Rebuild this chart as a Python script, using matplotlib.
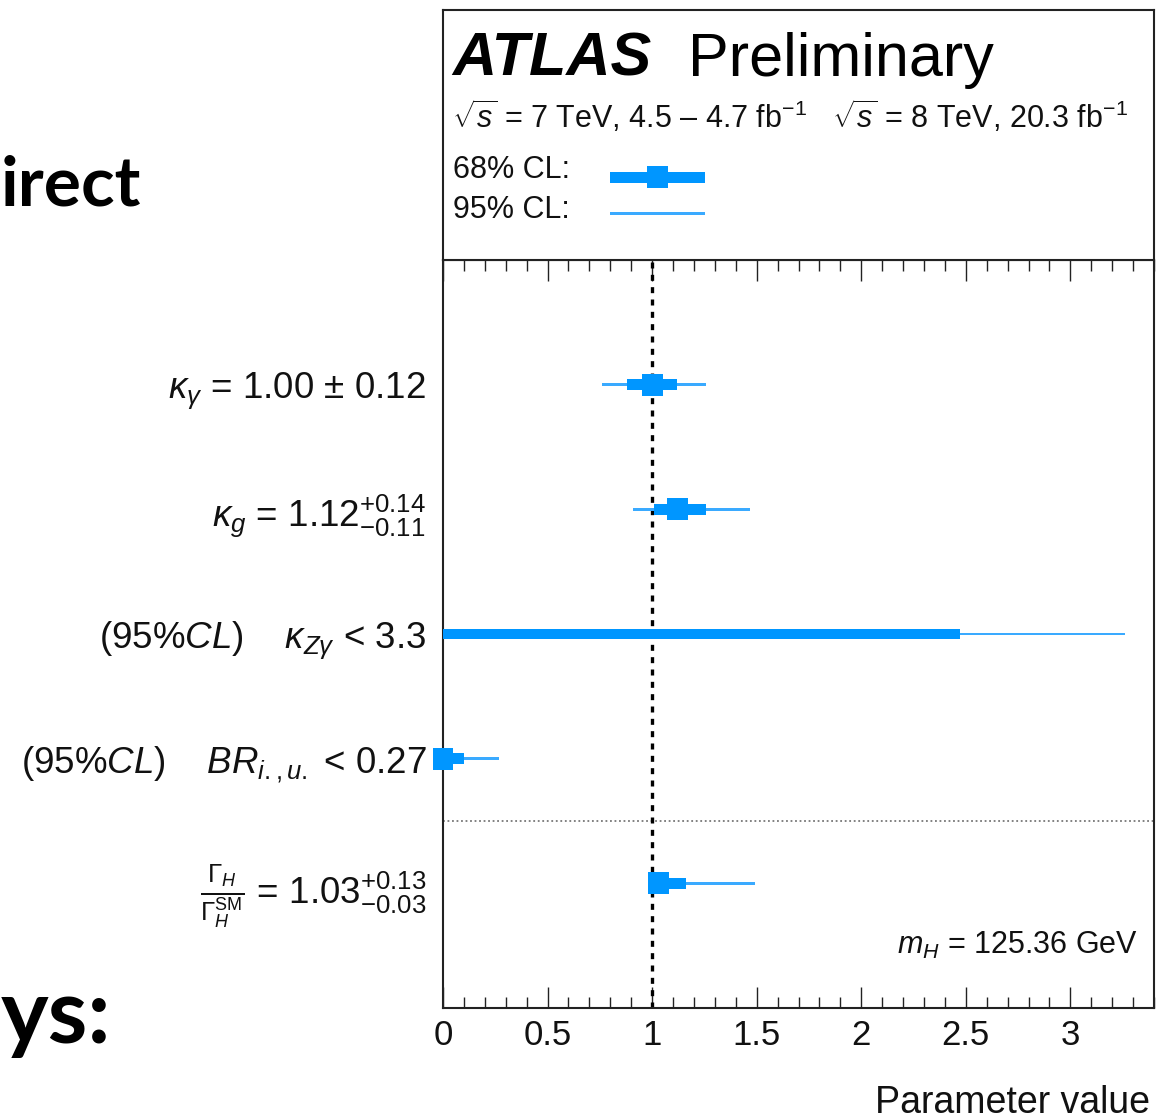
import numpy as np
import matplotlib
matplotlib.use("Agg")
import matplotlib.pyplot as plt

plt.rcParams['font.family'] = ['Liberation Sans', 'DejaVu Sans']
plt.rcParams['mathtext.fontset'] = 'custom'
plt.rcParams['mathtext.rm'] = 'Liberation Sans'
plt.rcParams['mathtext.it'] = 'Liberation Sans:italic'
plt.rcParams['mathtext.bf'] = 'Liberation Sans:bold'
plt.rcParams['mathtext.sf'] = 'Liberation Sans'

# ---- fit results (best fit, 68% and 95% CL intervals) ----
params = ["kgamma", "kg", "kZgamma", "BRiu", "GammaH"]
central = [1.00, 1.12, np.nan, 0.00, 1.03]
err_up = [0.12, 0.14, np.nan, np.nan, 0.13]
err_dn = [0.12, 0.11, np.nan, np.nan, 0.03]
lo68 = [0.88, 1.01, 0.00, 0.00, 1.00]
hi68 = [1.12, 1.26, 2.47, 0.10, 1.16]
lo95 = [0.76, 0.91, 0.00, 0.00, 1.00]
hi95 = [1.26, 1.47, 3.26, 0.27, 1.49]
row_pos = [5, 4, 3, 2, 1]
xticks = [0, 0.5, 1, 1.5, 2, 2.5, 3]
xtick_labels = ["0", "0.5", "1", "1.5", "2", "2.5", "3"]

labels = [
    r"$\kappa_{\gamma}$ = %.2f ± %.2f" % (central[0], err_up[0]),
    r"$\kappa_{g}$ = %.2f$^{+%.2f}_{-%.2f}$" % (central[1], err_up[1], err_dn[1]),
    r"(95%%$\mathit{CL}$)    $\kappa_{Z\gamma}$ < %.1f" % hi95[2],
    r"(95%%$\mathit{CL}$)    $BR_{i.,u.}$ < %.2f" % hi95[3],
    r"$\frac{\mathit{\Gamma}_{H}}{\mathit{\Gamma}_{H}^{\mathrm{SM}}}$ = %.2f$^{+%.2f}_{-%.2f}$"
    % (central[4], err_up[4], err_dn[4]),
]

W, H = 1173, 1120
fig = plt.figure(figsize=(W / 100, H / 100), dpi=100)
fig.patch.set_facecolor("white")


def fx(px):
    return px / W


def fy(py):
    return 1 - py / H


BLUE = "#0096ff"
LIGHT = "#3aaaff"
FRAME = "#222222"

# ---- main panel ----
ax = fig.add_axes([fx(443), fy(1008), fx(1154) - fx(443), fy(260) - fy(1008)])
ax.set_xlim(0, 3.4)
ax.set_ylim(0, 6)

for y, c, a68, b68, a95, b95 in zip(row_pos, central, lo68, hi68, lo95, hi95):
    ax.barh(y, b95 - a95, left=a95, height=0.024, color=LIGHT, zorder=3)
    ax.barh(y, b68 - a68, left=a68, height=0.088, color=BLUE, zorder=4)
    if not np.isnan(c):
        ax.barh(y, 0.1, left=c - 0.05, height=0.176, color=BLUE, zorder=5,
                clip_on=False)

ax.axvline(1.0, color="black", lw=2.4, ls=(0, (1.8, 1.9)), zorder=2)
ax.axhline(1.5, color="#777777", lw=1.3, ls=(0, (1, 1.5)), zorder=1)

ax.set_xticks(xticks)
ax.set_xticklabels(xtick_labels)
ax.set_xticks(np.arange(0, 3.41, 0.1), minor=True)
ax.tick_params(axis="x", which="major", direction="in", top=True, bottom=True,
               length=15, width=1.0, labelsize=25, pad=8, colors=FRAME,
               labelcolor="#111111")
ax.tick_params(axis="x", which="minor", direction="in", top=True, bottom=True,
               length=8, width=1.0, colors=FRAME)
ax.set_yticks(row_pos)
ax.set_yticklabels(labels)
ax.tick_params(axis="y", which="both", length=0, pad=12, labelsize=26.5,
               labelcolor="#111111")
for s in ax.spines.values():
    s.set_color(FRAME)
    s.set_linewidth(1.5)

ax.text(fx(1138), fy(945), r"$m_{H}$ = 125.36 GeV", transform=fig.transFigure,
        ha="right", va="center", fontsize=22, color="#111111")
fig.text(fx(1150), fy(1103), "Parameter value", ha="right", va="center",
         fontsize=27, color="#111111")

# ---- header box ----
hx = fig.add_axes([fx(443), fy(260), fx(1154) - fx(443), fy(10) - fy(260)])
hx.set_xlim(0, 3.4)
hx.set_ylim(0, 1)
hx.set_xticks([])
hx.set_yticks([])
for s in hx.spines.values():
    s.set_color(FRAME)
    s.set_linewidth(1.5)

fig.text(fx(452), fy(76), "ATLAS", fontsize=44, fontweight="bold",
         fontstyle="italic", va="baseline", ha="left", color="black")
fig.text(fx(688), fy(76), "Preliminary", fontsize=44, va="baseline",
         ha="left", color="black")
fig.text(fx(452), fy(128),
         r"$\sqrt{s}$ = 7 TeV, 4.5 – 4.7 fb$^{-1}$   $\sqrt{s}$ = 8 TeV, 20.3 fb$^{-1}$",
         fontsize=22, va="baseline", ha="left", color="#111111")
fig.text(fx(453), fy(170), "68% CL:", fontsize=22, va="center", ha="left",
         color="#111111")
fig.text(fx(453), fy(210), "95% CL:", fontsize=22, va="center", ha="left",
         color="#111111")

# legend glyphs
leg_y68 = (260 - 177) / 250
leg_y95 = (260 - 213) / 250
hx.barh(leg_y68, 0.455, left=0.80, height=0.044, color=BLUE)
hx.barh(leg_y68, 0.1, left=0.977, height=0.088, color=BLUE)
hx.barh(leg_y95, 0.455, left=0.80, height=0.012, color=LIGHT)

# ---- slide headings beside the plot ----
fig.text(fx(1), fy(205), "irect", fontsize=50, fontweight="bold",
         family=["Lato", "DejaVu Sans"], ha="left", va="baseline", color="black")
fig.text(fx(1), fy(1043), "ys:", fontsize=65, fontweight="bold",
         family=["Lato", "DejaVu Sans"], ha="left", va="baseline", color="black")

fig.savefig("out.png", dpi=100)
